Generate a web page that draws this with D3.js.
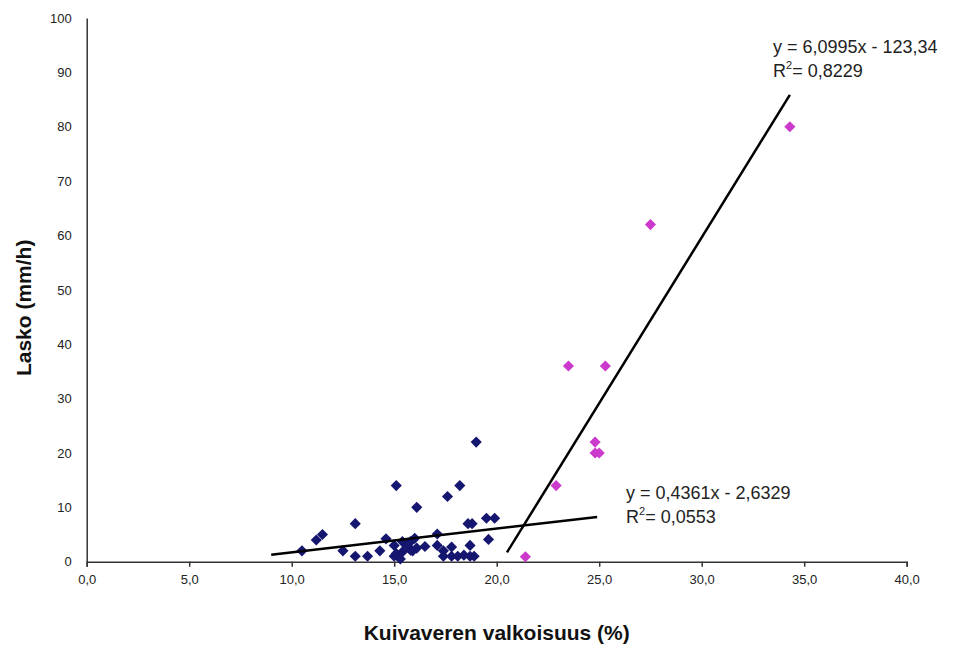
<!DOCTYPE html>
<html>
<head>
<meta charset="utf-8">
<script src="https://cdn.jsdelivr.net/npm/d3@7"></script>
<style>
  body { margin: 0; background: #fff; }
  text { font-family: "Liberation Sans", Arial, sans-serif; }
</style>
</head>
<body>
<script>
// navy series: [valkoisuus %, lasko mm/h]
const navyPoints = [
  [10.5, 2], [11.2, 4], [11.5, 5], [12.5, 2], [13.1, 7], [13.1, 1], [13.7, 1],
  [14.3, 2], [14.6, 4.2], [15.0, 3], [15.0, 1], [15.1, 14], [15.1, 1.5], [15.4, 3.7],
  [15.4, 1.8], [15.8, 3.7], [15.8, 2.1], [16.0, 4.3], [16.1, 2.5], [16.1, 10],
  [16.5, 2.8], [15.6, 3], [15.9, 2], [15.3, 0.5], [17.1, 5.1], [17.1, 3], [17.4, 2],
  [17.4, 1], [17.6, 12], [17.8, 2.7], [17.8, 1], [18.1, 1], [18.2, 14], [18.4, 1.2],
  [18.6, 7], [18.8, 7], [18.7, 3], [18.7, 1], [18.9, 1], [19.0, 22], [19.5, 8],
  [19.9, 8], [19.6, 4.1]
];
// pink series
const pinkPoints = [
  [21.4, 0.9], [22.9, 14], [23.5, 36], [24.8, 22], [24.8, 20], [25.0, 20],
  [25.3, 36], [27.5, 62], [34.3, 80]
];

// trendlines (slope, intercept, x-range drawn)
const navyTrend = { slope: 0.4361, intercept: -2.6329, from: 9.0, to: 24.9 };
const pinkTrend = { slope: 6.0995, intercept: -123.34, from: 20.5, to: 34.3 };
const navyLabel = ["y = 0,4361x - 2,6329", "0,0553"];
const pinkLabel = ["y = 6,0995x - 123,34", "0,8229"];

const xTicks = [0, 5, 10, 15, 20, 25, 30, 35, 40];
const yTicks = [0, 10, 20, 30, 40, 50, 60, 70, 80, 90, 100];

const width = 966, height = 647;

const svg = d3.select("body")
  .append("svg")
  .attr("width", width)
  .attr("height", height);

const x = d3.scaleLinear().domain([0, 40]).range([86.7, 906.7]);
const y = d3.scaleLinear().domain([0, 100]).range([561.7, 18]);

// axes
svg.append("g")
  .attr("transform", `translate(0,${y(0)})`)
  .call(d3.axisBottom(x)
    .tickValues(xTicks)
    .tickSize(5)
    .tickSizeOuter(5)
    .tickPadding(8)
    .tickFormat(d => d3.format(".1f")(d).replace(".", ",")));

svg.append("g")
  .attr("transform", `translate(${x(0)},0)`)
  .call(d3.axisLeft(y)
    .tickValues(yTicks)
    .tickSize(0)
    .tickPadding(15));

svg.selectAll(".domain").attr("stroke", "#333").attr("stroke-width", 1.5);
svg.selectAll(".tick line").attr("stroke", "#333").attr("stroke-width", 1.5);
svg.selectAll(".tick text")
  .attr("fill", "#222")
  .style("font-size", "13px")
  .style("font-family", "'Liberation Sans', Arial, sans-serif");

// axis titles
svg.append("text")
  .attr("x", x(20))
  .attr("y", 640)
  .attr("text-anchor", "middle")
  .style("font-size", "21px")
  .style("font-weight", "bold")
  .attr("fill", "#111")
  .text("Kuivaveren valkoisuus (%)");

svg.append("text")
  .attr("transform", `translate(31,${(y(0) + y(100)) / 2 + 18}) rotate(-90)`)
  .attr("text-anchor", "middle")
  .style("font-size", "21px")
  .style("font-weight", "bold")
  .attr("fill", "#111")
  .text("Lasko (mm/h)");

// points
const diamond = d3.symbol().type(d3.symbolSquare).size(62);

svg.selectAll(".navy")
  .data(navyPoints)
  .enter()
  .append("path")
  .attr("class", "navy")
  .attr("d", diamond)
  .attr("transform", d => `translate(${x(d[0])},${y(d[1])}) rotate(45)`)
  .attr("fill", "#15166f");

svg.selectAll(".pink")
  .data(pinkPoints)
  .enter()
  .append("path")
  .attr("class", "pink")
  .attr("d", diamond)
  .attr("transform", d => `translate(${x(d[0])},${y(d[1])}) rotate(45)`)
  .attr("fill", "#cc3acc");

// trendlines
const line = d3.line().x(d => x(d[0])).y(d => y(d[1]));
[navyTrend, pinkTrend].forEach(t => {
  svg.append("path")
    .datum([t.from, t.to].map(v => [v, t.slope * v + t.intercept]))
    .attr("d", line)
    .attr("fill", "none")
    .attr("stroke", "#000")
    .attr("stroke-width", 2.5);
});

// equation labels
function eqLabel(lbl, lx, ly) {
  const g = svg.append("g").attr("transform", `translate(${lx},${ly})`)
    .style("font-size", "18px").attr("fill", "#222");
  g.append("text").attr("y", 0).text(lbl[0]);
  const t = g.append("text").attr("y", 24);
  t.append("tspan").text("R");
  t.append("tspan").attr("dy", -8).style("font-size", "11px").text("2");
  t.append("tspan").attr("dy", 8).text("= " + lbl[1]);
}
eqLabel(pinkLabel, 773, 53);
eqLabel(navyLabel, 626, 499);
</script>
</body>
</html>
